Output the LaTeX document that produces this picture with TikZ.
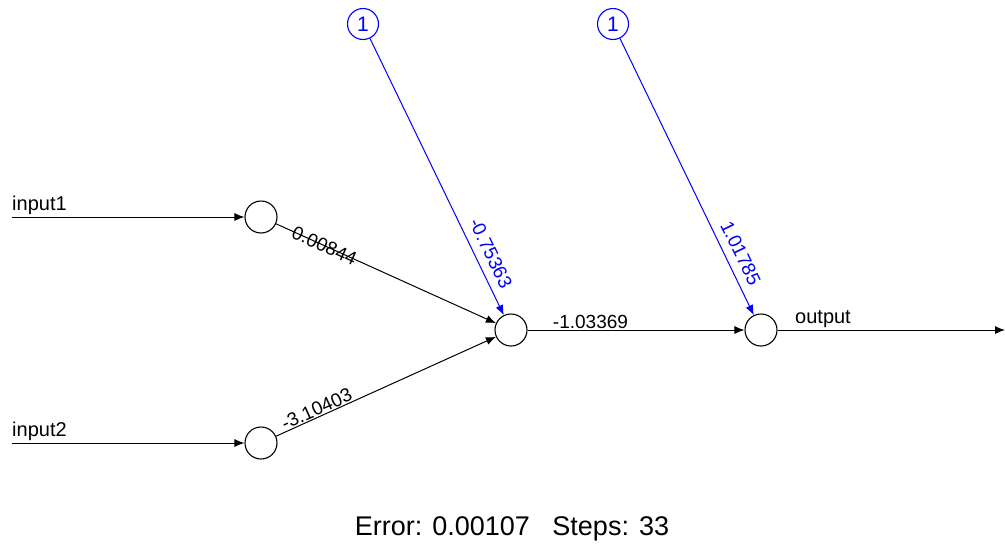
\documentclass[tikz,border=0pt]{standalone}
\usepackage{fontspec}
\setmainfont{Liberation Sans}
\usetikzlibrary{arrows.meta}
\begin{document}
\begin{tikzpicture}[x=1pt,y=-1pt,
  neuron/.style={circle,draw=black,line width=1.1pt,minimum size=32pt,inner sep=0pt},
  biasn/.style={circle,draw=blue,line width=1.1pt,minimum size=31pt,inner sep=0pt,text=blue,font=\fontsize{21}{24}\selectfont},
  conn/.style={draw=black,line width=1pt,-{Latex[length=10pt,width=8pt]}},
  bconn/.style={draw=blue,line width=1pt,-{Latex[length=10pt,width=8pt]}},
  wlab/.style={font=\fontsize{19}{22}\selectfont,inner sep=1pt},
  inlab/.style={font=\fontsize{20}{24}\selectfont,inner sep=0pt,anchor=south west}]
\useasboundingbox (0,0) rectangle (1005,544);
\node[neuron] (i1) at (261,217) {};
\node[neuron] (i2) at (261,443) {};
\node[neuron] (h) at (511,330) {};
\node[neuron] (o) at (761,330) {};
\node[biasn] (b1) at (363,24) {1};
\node[biasn] (b2) at (613,24) {1};
\coordinate (in1) at (12,217);
\coordinate (in2) at (12,443);
\coordinate (out) at (1005,330);
\node[inlab] (l1) at (12,215) {input1};
\node[inlab] (l2) at (12,441) {input2};
\node[inlab] (lo) at (795,328) {output};
\draw[conn] (in1) -- (i1);
\draw[conn] (in2) -- (i2);
\draw[conn] (o) -- (out);
\draw[conn] (i1) -- node[wlab,pos=0.22,sloped] {0.00844} (h);
\draw[conn] (i2) -- node[wlab,pos=0.2,sloped,above] {-3.10403} (h);
\draw[conn] (h) -- node[wlab,pos=0.29,above] {-1.03369} (o);
\draw[bconn] (b1) -- node[wlab,text=blue,pos=0.8,sloped,above=7pt] {-0.75363} (h);
\draw[bconn] (b2) -- node[wlab,text=blue,pos=0.8,sloped,above=7pt] {1.01785} (o);
\node[font=\fontsize{27}{30}\selectfont,anchor=base] (info) at (512,535) {Error: 0.00107\ \ \ Steps: 33};
\end{tikzpicture}
\end{document}
